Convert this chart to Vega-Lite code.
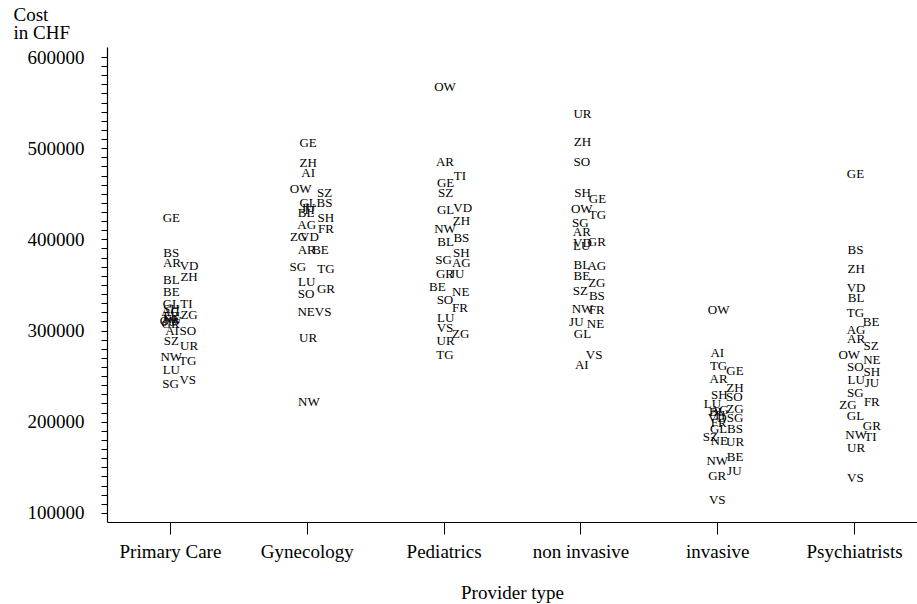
{
  "$schema": "https://vega.github.io/schema/vega-lite/v6.json",
  "autosize": {"type": "none"},
  "padding": {"left": 107, "top": 47, "right": 0, "bottom": 82},
  "width": 810,
  "height": 475,
  "background": "white",
  "config": {
    "view": {"stroke": null},
    "axis": {
      "labelFont": "Liberation Serif",
      "titleFont": "Liberation Serif",
      "labelColor": "black",
      "titleColor": "black",
      "domainColor": "black",
      "tickColor": "black",
      "grid": false,
      "titleFontWeight": "normal"
    }
  },
  "data": {
    "values": [
      {"type": "Primary Care", "canton": "GE", "cost": 423000, "jitter": 0.01},
      {"type": "Primary Care", "canton": "BS", "cost": 385000, "jitter": 0.01},
      {"type": "Primary Care", "canton": "AR", "cost": 374000, "jitter": 0.015},
      {"type": "Primary Care", "canton": "VD", "cost": 371000, "jitter": 0.14},
      {"type": "Primary Care", "canton": "ZH", "cost": 359000, "jitter": 0.14},
      {"type": "Primary Care", "canton": "BL", "cost": 355000, "jitter": 0.01},
      {"type": "Primary Care", "canton": "BE", "cost": 342000, "jitter": 0.01},
      {"type": "Primary Care", "canton": "GL", "cost": 329000, "jitter": 0.01},
      {"type": "Primary Care", "canton": "TI", "cost": 329000, "jitter": 0.12},
      {"type": "Primary Care", "canton": "SH", "cost": 324000, "jitter": 0.01},
      {"type": "Primary Care", "canton": "AG", "cost": 320000, "jitter": 0.005},
      {"type": "Primary Care", "canton": "ZG", "cost": 317000, "jitter": 0.14},
      {"type": "Primary Care", "canton": "FR", "cost": 316000, "jitter": 0.01},
      {"type": "Primary Care", "canton": "NE", "cost": 313000, "jitter": 0.01},
      {"type": "Primary Care", "canton": "OW", "cost": 311000, "jitter": 0.005},
      {"type": "Primary Care", "canton": "JU", "cost": 309000, "jitter": 0.0},
      {"type": "Primary Care", "canton": "GR", "cost": 307000, "jitter": 0.005},
      {"type": "Primary Care", "canton": "AI", "cost": 299000, "jitter": 0.015},
      {"type": "Primary Care", "canton": "SO", "cost": 299000, "jitter": 0.13},
      {"type": "Primary Care", "canton": "SZ", "cost": 289000, "jitter": 0.01},
      {"type": "Primary Care", "canton": "UR", "cost": 283000, "jitter": 0.14},
      {"type": "Primary Care", "canton": "NW", "cost": 271000, "jitter": 0.01},
      {"type": "Primary Care", "canton": "TG", "cost": 267000, "jitter": 0.13},
      {"type": "Primary Care", "canton": "LU", "cost": 257000, "jitter": 0.01},
      {"type": "Primary Care", "canton": "VS", "cost": 246000, "jitter": 0.13},
      {"type": "Primary Care", "canton": "SG", "cost": 241000, "jitter": 0.005},

      {"type": "Gynecology", "canton": "GE", "cost": 505700, "jitter": 0.01},
      {"type": "Gynecology", "canton": "ZH", "cost": 483800, "jitter": 0.01},
      {"type": "Gynecology", "canton": "AI", "cost": 472800, "jitter": 0.01},
      {"type": "Gynecology", "canton": "OW", "cost": 455300, "jitter": -0.045},
      {"type": "Gynecology", "canton": "SZ", "cost": 450900, "jitter": 0.13},
      {"type": "Gynecology", "canton": "GL", "cost": 439900, "jitter": 0.01},
      {"type": "Gynecology", "canton": "BS", "cost": 439900, "jitter": 0.13},
      {"type": "Gynecology", "canton": "JU", "cost": 434400, "jitter": 0.01},
      {"type": "Gynecology", "canton": "TI", "cost": 432200, "jitter": 0.015},
      {"type": "Gynecology", "canton": "BL", "cost": 428900, "jitter": -0.005},
      {"type": "Gynecology", "canton": "SH", "cost": 423500, "jitter": 0.14},
      {"type": "Gynecology", "canton": "AG", "cost": 415800, "jitter": 0.0},
      {"type": "Gynecology", "canton": "FR", "cost": 411400, "jitter": 0.14},
      {"type": "Gynecology", "canton": "ZG", "cost": 402600, "jitter": -0.06},
      {"type": "Gynecology", "canton": "VD", "cost": 402600, "jitter": 0.02},
      {"type": "Gynecology", "canton": "AR", "cost": 388400, "jitter": 0.0},
      {"type": "Gynecology", "canton": "BE", "cost": 388400, "jitter": 0.10},
      {"type": "Gynecology", "canton": "SG", "cost": 369700, "jitter": -0.065},
      {"type": "Gynecology", "canton": "TG", "cost": 367500, "jitter": 0.14},
      {"type": "Gynecology", "canton": "LU", "cost": 353300, "jitter": 0.0},
      {"type": "Gynecology", "canton": "GR", "cost": 345600, "jitter": 0.14},
      {"type": "Gynecology", "canton": "SO", "cost": 340100, "jitter": -0.005},
      {"type": "Gynecology", "canton": "NE", "cost": 320400, "jitter": -0.005},
      {"type": "Gynecology", "canton": "VS", "cost": 320400, "jitter": 0.12},
      {"type": "Gynecology", "canton": "UR", "cost": 291900, "jitter": 0.01},
      {"type": "Gynecology", "canton": "NW", "cost": 221700, "jitter": 0.015},

      {"type": "Pediatrics", "canton": "OW", "cost": 567100, "jitter": 0.01},
      {"type": "Pediatrics", "canton": "AR", "cost": 484900, "jitter": 0.01},
      {"type": "Pediatrics", "canton": "TI", "cost": 469500, "jitter": 0.12},
      {"type": "Pediatrics", "canton": "GE", "cost": 461800, "jitter": 0.015},
      {"type": "Pediatrics", "canton": "SZ", "cost": 450900, "jitter": 0.015},
      {"type": "Pediatrics", "canton": "VD", "cost": 434400, "jitter": 0.14},
      {"type": "Pediatrics", "canton": "GL", "cost": 432200, "jitter": 0.015},
      {"type": "Pediatrics", "canton": "ZH", "cost": 420200, "jitter": 0.13},
      {"type": "Pediatrics", "canton": "NW", "cost": 411400, "jitter": 0.01},
      {"type": "Pediatrics", "canton": "BS", "cost": 401500, "jitter": 0.13},
      {"type": "Pediatrics", "canton": "BL", "cost": 397100, "jitter": 0.015},
      {"type": "Pediatrics", "canton": "SH", "cost": 385100, "jitter": 0.13},
      {"type": "Pediatrics", "canton": "SG", "cost": 377400, "jitter": 0.0},
      {"type": "Pediatrics", "canton": "AG", "cost": 374100, "jitter": 0.13},
      {"type": "Pediatrics", "canton": "GR", "cost": 362100, "jitter": 0.01},
      {"type": "Pediatrics", "canton": "JU", "cost": 362100, "jitter": 0.10},
      {"type": "Pediatrics", "canton": "BE", "cost": 347800, "jitter": -0.045},
      {"type": "Pediatrics", "canton": "NE", "cost": 342300, "jitter": 0.125},
      {"type": "Pediatrics", "canton": "SO", "cost": 333500, "jitter": 0.01},
      {"type": "Pediatrics", "canton": "FR", "cost": 324800, "jitter": 0.12},
      {"type": "Pediatrics", "canton": "LU", "cost": 313800, "jitter": 0.015},
      {"type": "Pediatrics", "canton": "VS", "cost": 302800, "jitter": 0.01},
      {"type": "Pediatrics", "canton": "ZG", "cost": 296300, "jitter": 0.125},
      {"type": "Pediatrics", "canton": "UR", "cost": 288600, "jitter": 0.015},
      {"type": "Pediatrics", "canton": "TG", "cost": 273200, "jitter": 0.01},

      {"type": "non invasive", "canton": "UR", "cost": 537500, "jitter": 0.015},
      {"type": "non invasive", "canton": "ZH", "cost": 506800, "jitter": 0.015},
      {"type": "non invasive", "canton": "SO", "cost": 484900, "jitter": 0.01},
      {"type": "non invasive", "canton": "SH", "cost": 451000, "jitter": 0.015},
      {"type": "non invasive", "canton": "GE", "cost": 444000, "jitter": 0.125},
      {"type": "non invasive", "canton": "OW", "cost": 433000, "jitter": 0.01},
      {"type": "non invasive", "canton": "TG", "cost": 427000, "jitter": 0.125},
      {"type": "non invasive", "canton": "SG", "cost": 418000, "jitter": 0.0},
      {"type": "non invasive", "canton": "AR", "cost": 408000, "jitter": 0.01},
      {"type": "non invasive", "canton": "VD", "cost": 396000, "jitter": 0.015},
      {"type": "non invasive", "canton": "LU", "cost": 393000, "jitter": 0.01},
      {"type": "non invasive", "canton": "GR", "cost": 397000, "jitter": 0.12},
      {"type": "non invasive", "canton": "BL", "cost": 372000, "jitter": 0.01},
      {"type": "non invasive", "canton": "AG", "cost": 371000, "jitter": 0.12},
      {"type": "non invasive", "canton": "BE", "cost": 360000, "jitter": 0.01},
      {"type": "non invasive", "canton": "ZG", "cost": 352000, "jitter": 0.12},
      {"type": "non invasive", "canton": "SZ", "cost": 343000, "jitter": 0.0},
      {"type": "non invasive", "canton": "BS", "cost": 338000, "jitter": 0.12},
      {"type": "non invasive", "canton": "NW", "cost": 324000, "jitter": 0.015},
      {"type": "non invasive", "canton": "FR", "cost": 322000, "jitter": 0.12},
      {"type": "non invasive", "canton": "JU", "cost": 309000, "jitter": -0.03},
      {"type": "non invasive", "canton": "NE", "cost": 307000, "jitter": 0.11},
      {"type": "non invasive", "canton": "GL", "cost": 296000, "jitter": 0.015},
      {"type": "non invasive", "canton": "VS", "cost": 273000, "jitter": 0.10},
      {"type": "non invasive", "canton": "AI", "cost": 262000, "jitter": 0.01},

      {"type": "invasive", "canton": "OW", "cost": 322600, "jitter": 0.01},
      {"type": "invasive", "canton": "AI", "cost": 275400, "jitter": 0.0},
      {"type": "invasive", "canton": "TG", "cost": 261200, "jitter": 0.01},
      {"type": "invasive", "canton": "GE", "cost": 255700, "jitter": 0.13},
      {"type": "invasive", "canton": "AR", "cost": 246900, "jitter": 0.01},
      {"type": "invasive", "canton": "ZH", "cost": 237000, "jitter": 0.13},
      {"type": "invasive", "canton": "SH", "cost": 229400, "jitter": 0.015},
      {"type": "invasive", "canton": "SO", "cost": 227200, "jitter": 0.125},
      {"type": "invasive", "canton": "LU", "cost": 219500, "jitter": -0.035},
      {"type": "invasive", "canton": "ZG", "cost": 214000, "jitter": 0.13},
      {"type": "invasive", "canton": "AG", "cost": 213000, "jitter": 0.015},
      {"type": "invasive", "canton": "BL", "cost": 211000, "jitter": 0.0},
      {"type": "invasive", "canton": "TI", "cost": 207000, "jitter": 0.015},
      {"type": "invasive", "canton": "VD", "cost": 204000, "jitter": 0.0},
      {"type": "invasive", "canton": "SG", "cost": 204200, "jitter": 0.13},
      {"type": "invasive", "canton": "FR", "cost": 199000, "jitter": 0.01},
      {"type": "invasive", "canton": "GL", "cost": 192100, "jitter": 0.01},
      {"type": "invasive", "canton": "BS", "cost": 192100, "jitter": 0.13},
      {"type": "invasive", "canton": "SZ", "cost": 183300, "jitter": -0.05},
      {"type": "invasive", "canton": "NE", "cost": 178900, "jitter": 0.015},
      {"type": "invasive", "canton": "UR", "cost": 177800, "jitter": 0.13},
      {"type": "invasive", "canton": "BE", "cost": 161400, "jitter": 0.13},
      {"type": "invasive", "canton": "NW", "cost": 157000, "jitter": 0.0},
      {"type": "invasive", "canton": "JU", "cost": 146000, "jitter": 0.125},
      {"type": "invasive", "canton": "GR", "cost": 140600, "jitter": 0.0},
      {"type": "invasive", "canton": "VS", "cost": 114200, "jitter": 0.0},

      {"type": "Psychiatrists", "canton": "GE", "cost": 471700, "jitter": 0.01},
      {"type": "Psychiatrists", "canton": "BS", "cost": 388400, "jitter": 0.01},
      {"type": "Psychiatrists", "canton": "ZH", "cost": 367500, "jitter": 0.015},
      {"type": "Psychiatrists", "canton": "VD", "cost": 346700, "jitter": 0.015},
      {"type": "Psychiatrists", "canton": "BL", "cost": 335700, "jitter": 0.015},
      {"type": "Psychiatrists", "canton": "TG", "cost": 319300, "jitter": 0.01},
      {"type": "Psychiatrists", "canton": "BE", "cost": 309400, "jitter": 0.125},
      {"type": "Psychiatrists", "canton": "AG", "cost": 300700, "jitter": 0.015},
      {"type": "Psychiatrists", "canton": "AR", "cost": 290800, "jitter": 0.015},
      {"type": "Psychiatrists", "canton": "SZ", "cost": 283100, "jitter": 0.125},
      {"type": "Psychiatrists", "canton": "OW", "cost": 273300, "jitter": -0.035},
      {"type": "Psychiatrists", "canton": "NE", "cost": 267800, "jitter": 0.13},
      {"type": "Psychiatrists", "canton": "SO", "cost": 260100, "jitter": 0.01},
      {"type": "Psychiatrists", "canton": "SH", "cost": 254600, "jitter": 0.13},
      {"type": "Psychiatrists", "canton": "LU", "cost": 245800, "jitter": 0.015},
      {"type": "Psychiatrists", "canton": "JU", "cost": 242500, "jitter": 0.13},
      {"type": "Psychiatrists", "canton": "SG", "cost": 231600, "jitter": 0.01},
      {"type": "Psychiatrists", "canton": "ZG", "cost": 218400, "jitter": -0.045},
      {"type": "Psychiatrists", "canton": "FR", "cost": 221700, "jitter": 0.13},
      {"type": "Psychiatrists", "canton": "GL", "cost": 206400, "jitter": 0.01},
      {"type": "Psychiatrists", "canton": "GR", "cost": 195400, "jitter": 0.13},
      {"type": "Psychiatrists", "canton": "NW", "cost": 185500, "jitter": 0.015},
      {"type": "Psychiatrists", "canton": "TI", "cost": 183300, "jitter": 0.12},
      {"type": "Psychiatrists", "canton": "UR", "cost": 171300, "jitter": 0.015},
      {"type": "Psychiatrists", "canton": "VS", "cost": 138400, "jitter": 0.01}
    ]
  },
  "mark": {"type": "text", "font": "Liberation Serif", "fontSize": 13, "color": "black", "align": "center", "baseline": "middle"},
  "encoding": {
    "x": {
      "field": "type",
      "type": "nominal",
      "sort": ["Primary Care", "Gynecology", "Pediatrics", "non invasive", "invasive", "Psychiatrists"],
      "scale": {"type": "point", "padding": 0.46},
      "axis": {
        "title": "Provider type",
        "labelAngle": 0,
        "labelFontSize": 19,
        "titleFontSize": 19,
        "tickSize": 12,
        "labelPadding": 23,
        "labelBaseline": "alphabetic",
        "titleBaseline": "alphabetic",
        "titleY": 76,
        "domainWidth": 1.2,
        "tickWidth": 1
      }
    },
    "xOffset": {
      "field": "jitter",
      "type": "quantitative",
      "scale": {"domain": [-1, 1], "range": [-136.8, 136.8]}
    },
    "y": {
      "field": "cost",
      "type": "quantitative",
      "scale": {"domain": [90000, 611000], "nice": false, "zero": false},
      "axis": {
        "title": ["Cost", "in CHF"],
        "titleAngle": 0,
        "titleAlign": "left",
        "titleBaseline": "alphabetic",
        "titleX": -94,
        "titleY": -27,
        "titleFontSize": 19,
        "titleLineHeight": 18,
        "values": [100000,110000,120000,130000,140000,150000,160000,170000,180000,190000,200000,210000,220000,230000,240000,250000,260000,270000,280000,290000,300000,310000,320000,330000,340000,350000,360000,370000,380000,390000,400000,410000,420000,430000,440000,450000,460000,470000,480000,490000,500000,510000,520000,530000,540000,550000,560000,570000,580000,590000,600000],
        "format": "d",
        "labelExpr": "datum.value % 100000 === 0 ? datum.label : ''",
        "labelOverlap": false,
        "labelFlush": false,
        "labelFontSize": 19,
        "labelPadding": 17,
        "tickSize": 6,
        "domainWidth": 1.2,
        "tickWidth": 1
      }
    },
    "text": {"field": "canton", "type": "nominal"}
  }
}
